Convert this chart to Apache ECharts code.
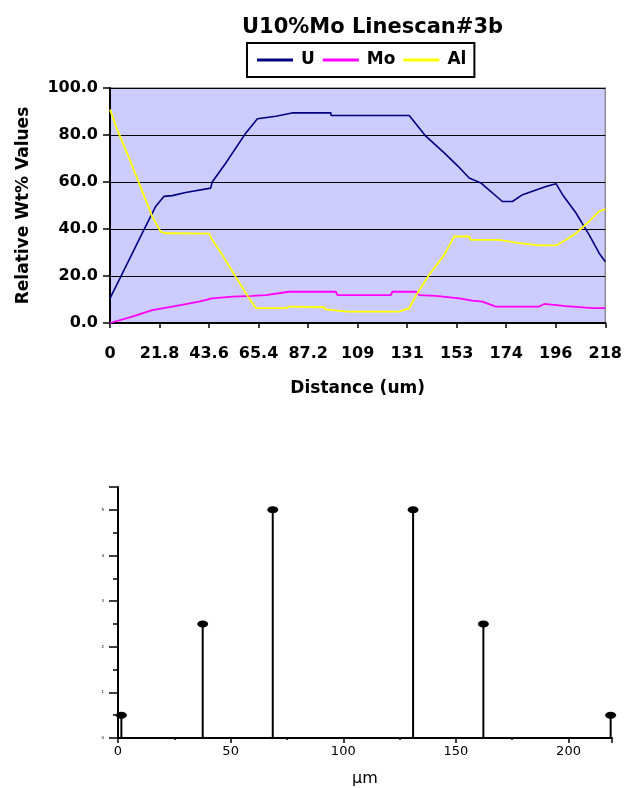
<!DOCTYPE html>
<html>
<head>
<meta charset="utf-8">
<script src="https://cdn.jsdelivr.net/npm/echarts@6/dist/echarts.min.js"></script>
<style>html,body{margin:0;padding:0;background:#fff;}#c{width:625px;height:788px;}</style>
</head>
<body>
<div id="c"></div>
<script>
// ---- Top chart data (Distance in um, Relative Wt%) ----
const xTickLabels = ['0','21.8','43.6','65.4','87.2','109','131','153','174','196','218'];
const yTickLabels = ['0.0','20.0','40.0','60.0','80.0','100.0'];

const uDist = [0, 8.4, 14.2, 20.1, 23.8, 27.4, 33.3, 44.3, 45, 50.9, 59.8, 64.9, 73, 80.1, 97.2, 97.3, 131.7, 139, 147.1, 152.9, 158.1, 163.2, 172.7, 177.1, 181.6, 191.9, 196.3, 199.2, 205.1, 210.9, 215.3, 218];
const uVals = [10.5, 26.9, 38.2, 49.6, 53.9, 54.2, 55.5, 57.4, 60, 68, 80.9, 86.9, 88, 89.4, 89.4, 88.3, 88.3, 79.5, 72.4, 67, 61.7, 59.6, 51.7, 51.7, 54.6, 58.1, 59.3, 54.6, 46.8, 37.5, 29.7, 26.1];

const moDist = [0, 9.8, 18.6, 27.4, 39.2, 45, 53.9, 62.7, 68.6, 78.8, 99.4, 100.1, 123.6, 124.3, 134.6, 136.1, 143.4, 153.7, 159.5, 163.9, 169.8, 188.9, 191.1, 200.7, 212.4, 218];
const moVals = [0, 2.7, 5.5, 7, 9.1, 10.5, 11.2, 11.5, 11.9, 13.3, 13.3, 11.9, 11.9, 13.3, 13.3, 11.9, 11.5, 10.5, 9.5, 9.1, 7, 7, 8.1, 7.2, 6.3, 6.3];

const alDist = [0, 3.2, 8.4, 14.2, 18.6, 22.3, 24.5, 43.6, 45, 49.4, 53.9, 59.8, 64.2, 77.4, 78.8, 94.2, 95, 104.5, 127.3, 131.7, 135.3, 140.5, 147.1, 151.5, 158.1, 158.8, 171.3, 180.1, 188.9, 196.3, 200.7, 205.1, 210.9, 215.3, 218];
const alVals = [90.8, 82.3, 70.2, 56, 45.3, 38.9, 38.2, 38, 35.4, 29, 21.9, 12.7, 6.3, 6.3, 7, 6.7, 5.8, 4.8, 4.8, 6.3, 12.7, 20.5, 29, 36.8, 36.8, 35.4, 35.4, 34, 33, 33, 35.4, 38.2, 43.2, 47.5, 48.5];

// ---- Bottom chart data (stem plot, um) ----
const stemPos = [1.5, 37.6, 68.7, 131, 162.2, 218.7];
const stemVals = [0.5, 2.5, 5, 5, 2.5, 0.5];

function pairs(xs, ys) { return xs.map((x, i) => [x, ys[i]]); }

const F = 'DejaVu Sans';
const chart = echarts.init(document.getElementById('c'), null, {renderer: 'canvas'});
chart.setOption({
  backgroundColor: '#ffffff',
  animation: false,
  title: {
    text: 'U10%Mo Linescan#3b',
    left: 237, top: 12,
    textStyle: {fontFamily: F, fontSize: 21, fontWeight: 'bold', color: '#000'}
  },
  legend: {
    data: [
      {name: 'U', icon: 'rect'},
      {name: 'Mo', icon: 'rect'},
      {name: 'Al', icon: 'rect'}
    ],
    left: 247, top: 43,
    padding: [7, 8, 7, 10],
    itemWidth: 36, itemHeight: 3, itemGap: 8,
    borderColor: '#000', borderWidth: 2,
    textStyle: {fontFamily: F, fontSize: 17, fontWeight: 'bold', color: '#000', lineHeight: 20, padding: [0, 0, 0, 3]}
  },
  grid: [
    {left: 110, right: 18, top: 88, bottom: 465, show: true, backgroundColor: '#CCCCFF', borderColor: '#8c8c8c', borderWidth: 1.5},
    {left: 118, right: 13, top: 487, bottom: 49}
  ],
  xAxis: [
    {
      gridIndex: 0, type: 'value', min: 0, max: 218, interval: 21.8,
      axisLine: {show: true, onZero: false, lineStyle: {color: '#000', width: 2}},
      axisTick: {show: true, length: 5, lineStyle: {color: '#000', width: 1.5}},
      splitLine: {show: false},
      axisLabel: {
        margin: 23, color: '#000', fontFamily: F, fontSize: 16, fontWeight: 'bold',
        formatter: v => xTickLabels[Math.round(v / 21.8)]
      },
      name: 'Distance (um)', nameLocation: 'middle', nameGap: 57,
      nameTextStyle: {fontFamily: F, fontSize: 17, fontWeight: 'bold', color: '#000'}
    },
    {
      gridIndex: 1, type: 'value', min: 0, max: 219.3, interval: 50,
      axisLine: {show: true, onZero: false, lineStyle: {color: '#000', width: 2}},
      axisTick: {show: true, length: 5, lineStyle: {color: '#000', width: 1.5}},
      minorTick: {show: true, splitNumber: 2, length: 2, lineStyle: {color: '#000', width: 1.5}},
      splitLine: {show: false},
      axisLabel: {margin: 7, color: '#000', fontFamily: F, fontSize: 13, showMaxLabel: false},
      name: 'μm', nameLocation: 'middle', nameGap: 33,
      nameTextStyle: {fontFamily: F, fontSize: 16, color: '#000'}
    }
  ],
  yAxis: [
    {
      gridIndex: 0, type: 'value', min: 0, max: 100, interval: 20,
      axisLine: {show: true, lineStyle: {color: '#000', width: 2}},
      axisTick: {show: true, length: 7, lineStyle: {color: '#000', width: 1.5}},
      splitLine: {show: true, lineStyle: {color: '#000', width: 1.2}},
      axisLabel: {
        margin: 12, color: '#000', fontFamily: F, fontSize: 16, fontWeight: 'bold',
        formatter: v => yTickLabels[Math.round(v / 20)]
      },
      name: 'Relative Wt% Values', nameLocation: 'middle', nameGap: 78, nameRotate: 90,
      nameTextStyle: {fontFamily: F, fontSize: 17, fontWeight: 'bold', color: '#000'}
    },
    {
      gridIndex: 1, type: 'value', min: 0, max: 5.5, interval: 1,
      axisLine: {show: true, lineStyle: {color: '#000', width: 2}},
      axisTick: {show: true, length: 9, lineStyle: {color: '#000', width: 1.5}},
      minorTick: {show: true, splitNumber: 2, length: 5, lineStyle: {color: '#000', width: 1.5}},
      splitLine: {show: false},
      axisLabel: {margin: 14, color: '#000', fontFamily: F, fontSize: 4, showMaxLabel: false}
    }
  ],
  series: [
    {name: 'U', type: 'line', xAxisIndex: 0, yAxisIndex: 0, data: pairs(uDist, uVals),
      showSymbol: false, symbol: 'none', color: '#000080', lineStyle: {color: '#000080', width: 1.6}},
    {name: 'Mo', type: 'line', xAxisIndex: 0, yAxisIndex: 0, data: pairs(moDist, moVals),
      showSymbol: false, symbol: 'none', color: '#FF00FF', lineStyle: {color: '#FF00FF', width: 1.8}},
    {name: 'Al', type: 'line', xAxisIndex: 0, yAxisIndex: 0, data: pairs(alDist, alVals),
      showSymbol: false, symbol: 'none', color: '#FFFF00', lineStyle: {color: '#FFFF00', width: 1.8}},
    {
      name: 'stems', type: 'custom', xAxisIndex: 1, yAxisIndex: 1,
      data: pairs(stemPos, stemVals),
      renderItem: function (params, api) {
        const top = api.coord([api.value(0), api.value(1)]);
        const base = api.coord([api.value(0), 0]);
        return {type: 'line', shape: {x1: base[0], y1: base[1], x2: top[0], y2: top[1]},
          style: {stroke: '#000', lineWidth: 2}};
      }
    },
    {
      name: 'stemHeads', type: 'scatter', xAxisIndex: 1, yAxisIndex: 1,
      data: pairs(stemPos, stemVals), symbol: 'circle', symbolSize: [11, 7],
      itemStyle: {color: '#000', opacity: 1}
    }
  ]
});
</script>
</body>
</html>
